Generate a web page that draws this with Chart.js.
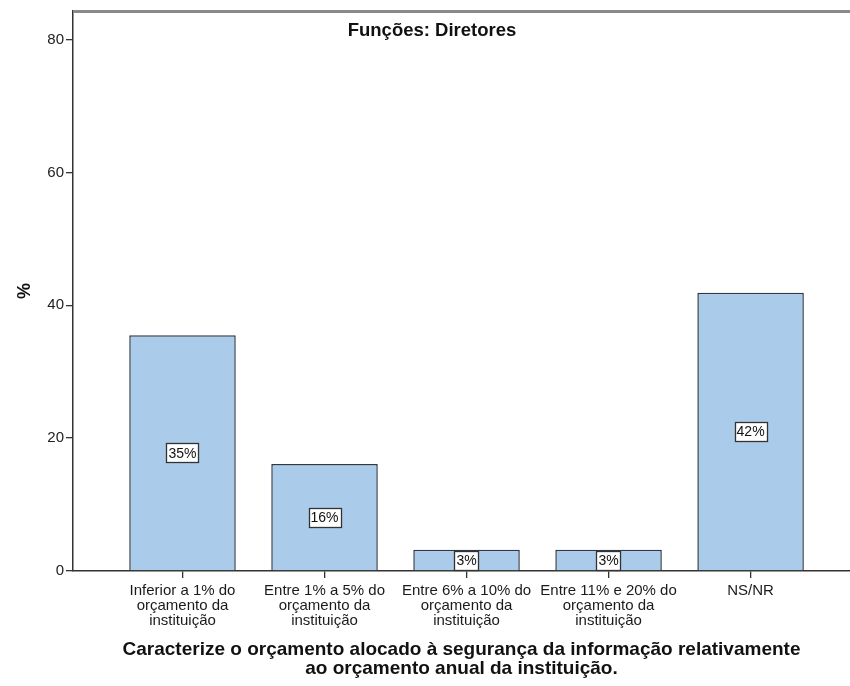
<!DOCTYPE html>
<html>
<head>
<meta charset="utf-8">
<script src="https://cdn.jsdelivr.net/npm/chart.js@4"></script>
<style>
  body { margin: 0; background: #fff; }
  #chart-wrap { width: 850px; height: 686px; }
</style>
</head>
<body>
<div id="chart-wrap"><canvas id="budget-chart" width="850" height="686"></canvas></div>
<script>
// Values (percent of respondents)
const categories = [
    ['Inferior a 1% do', 'orçamento da', 'instituição'],
    ['Entre 1% a 5% do', 'orçamento da', 'instituição'],
    ['Entre 6% a 10% do', 'orçamento da', 'instituição'],
    ['Entre 11% e 20% do', 'orçamento da', 'instituição'],
    ['NS/NR']
];
const percentValues = [35.5, 16.1, 3.2, 3.2, 41.9];
const percentLabels = ['35%', '16%', '3%', '3%', '42%'];
const yTickValues = [0, 20, 40, 60, 80];

const panelTitle = 'Funções: Diretores';
const xTitle = [
    'Caracterize o orçamento alocado à segurança da informação relativamente',
    'ao orçamento anual da instituição.'
];

const FONT = "'Liberation Sans', Arial, sans-serif";

// white boxed value labels in the middle of each bar
const barLabels = {
    id: 'barLabels',
    afterDatasetsDraw(chart) {
        const ctx = chart.ctx;
        const meta = chart.getDatasetMeta(0);
        ctx.save();
        ctx.font = '14px ' + FONT;
        ctx.textAlign = 'center';
        ctx.textBaseline = 'middle';
        meta.data.forEach((bar, i) => {
            const text = percentLabels[i];
            const cy = (bar.y + bar.base) / 2;
            const w = ctx.measureText(text).width + 4;
            const h = 19;
            const bx = Math.round(bar.x - w / 2) + 0.5;
            const by = Math.round(cy - h / 2) + 0.5;
            ctx.fillStyle = '#fff';
            ctx.fillRect(bx, by, Math.round(w), h);
            ctx.strokeStyle = '#333';
            ctx.lineWidth = 1.3;
            ctx.strokeRect(bx, by, Math.round(w), h);
            ctx.fillStyle = '#111';
            ctx.fillText(text, bar.x, cy + 1);
        });
        ctx.restore();
    }
};

// top frame line and the title that sits inside the plot
const frameAndTitle = {
    id: 'frameAndTitle',
    afterDraw(chart) {
        const ctx = chart.ctx;
        const area = chart.chartArea;
        ctx.save();
        ctx.strokeStyle = '#8a8a8a';
        ctx.lineWidth = 3;
        ctx.beginPath();
        ctx.moveTo(area.left, area.top + 0.5);
        ctx.lineTo(chart.width, area.top + 0.5);
        ctx.stroke();
        ctx.font = 'bold 18.5px ' + FONT;
        ctx.fillStyle = '#111';
        ctx.textAlign = 'center';
        ctx.textBaseline = 'middle';
        ctx.fillText(panelTitle, 432, 31);
        ctx.restore();
    }
};

function createBudgetChart() {
    const ctx = document.getElementById('budget-chart').getContext('2d');
    return new Chart(ctx, {
        type: 'bar',
        data: {
            datasets: [{
                data: percentValues.map((v, i) => ({ x: i + 1, y: v })),
                backgroundColor: '#aacbea',
                borderColor: '#2e3a46',
                borderWidth: 1.5,
                barPercentage: 0.75,
                categoryPercentage: 1
            }]
        },
        options: {
            responsive: false,
            animation: false,
            layout: { padding: { top: 7, right: 0, bottom: 0, left: 0 } },
            plugins: {
                legend: { display: false },
                tooltip: { enabled: false },
                title: { display: false }
            },
            scales: {
                x: {
                    type: 'linear',
                    offset: false,
                    min: 0.229,
                    max: 5.70,
                    afterBuildTicks(scale) {
                        scale.ticks = categories.map((c, i) => ({ value: i + 1 }));
                    },
                    afterFit(scale) { scale.height = 115; },
                    ticks: {
                        autoSkip: false,
                        maxRotation: 0,
                        padding: 6,
                        color: '#1a1a1a',
                        font: { family: FONT, size: 15, lineHeight: 0.97 },
                        callback: (value) => categories[value - 1] || ''
                    },
                    grid: {
                        offset: false,
                        drawOnChartArea: false,
                        tickLength: 7,
                        color: '#333',
                        lineWidth: 1.3
                    },
                    border: { display: true, color: '#333', width: 1.5 },
                    title: {
                        display: true,
                        text: xTitle,
                        color: '#111',
                        font: { family: FONT, size: 19, weight: 'bold', lineHeight: 1.0 },
                        padding: { top: 0, bottom: 8 }
                    }
                },
                y: {
                    min: 0,
                    max: 84.3,
                    afterBuildTicks(scale) {
                        scale.ticks = yTickValues.map(v => ({ value: v }));
                    },
                    afterFit(scale) { scale.width = 73; },
                    ticks: {
                        padding: 2,
                        color: '#222',
                        font: { family: FONT, size: 15 }
                    },
                    grid: {
                        drawOnChartArea: false,
                        tickLength: 7,
                        color: '#333',
                        lineWidth: 1.3
                    },
                    border: { display: true, color: '#333', width: 1.5 },
                    title: {
                        display: true,
                        text: '%',
                        color: '#111',
                        font: { family: FONT, size: 18, weight: 'bold' },
                        padding: { top: 14, bottom: 0 }
                    }
                }
            }
        },
        plugins: [barLabels, frameAndTitle]
    });
}

createBudgetChart();
</script>
</body>
</html>
